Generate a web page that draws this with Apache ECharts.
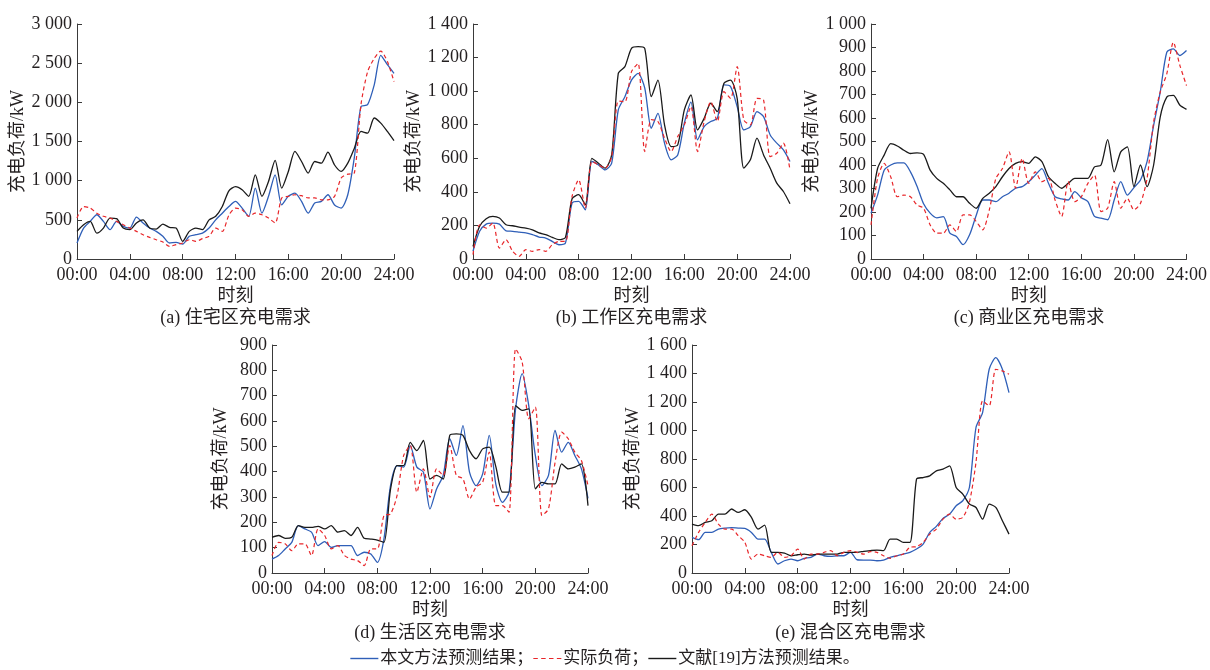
<!DOCTYPE html>
<html>
<head>
<meta charset="utf-8">
<script src="https://cdn.jsdelivr.net/npm/echarts@6/dist/echarts.min.js"></script>
<style>
html,body{margin:0;padding:0;background:#fff;}
#chart{width:1210px;height:670px;}
</style>
</head>
<body>
<div id="chart"></div>
<script>
// time axis (hours)
const hours = [0,0.5,1,1.5,2,2.5,3,3.5,4,4.5,5,5.5,6,6.5,7,7.5,8,8.5,9,9.5,10,10.5,11,11.5,12,12.5,13,13.5,14,14.5,15,15.5,16,16.5,17,17.5,18,18.5,19,19.5,20,20.5,21,21.5,22,22.5,23,23.5,24];
const xTicks = ['00:00','04:00','08:00','12:00','16:00','20:00','24:00'];

const seriesNames = ['本文方法预测结果；','实际负荷；','文献[19]方法预测结果。'];
const captions = ['(a) 住宅区充电需求','(b) 工作区充电需求','(c) 商业区充电需求','(d) 生活区充电需求','(e) 混合区充电需求'];
const yMax = [3000,1400,1000,900,1600];
const yStep = [500,200,100,100,200];

// (a) 住宅区
const aBlue  = [204,395,480,565,480,374,480,416,395,535,460,395,353,290,204,212,190,290,310,330,395,500,585,670,735,650,545,905,585,800,1075,690,800,840,735,585,715,735,820,690,650,820,1300,1945,1970,2220,2600,2480,2370];
const aRed   = [523,670,650,585,545,523,480,438,395,353,310,276,246,217,160,183,204,246,225,260,290,395,353,560,650,630,545,585,565,523,460,780,800,820,808,780,780,756,756,800,1033,1083,1100,1970,2390,2560,2655,2520,2265];
const aBlack = [353,438,480,330,395,523,515,395,374,460,500,395,382,446,404,395,225,353,395,374,500,545,670,870,925,885,800,1075,800,990,1260,905,1118,1373,1245,1097,1245,1224,1365,1200,1118,1224,1415,1628,1607,1800,1735,1628,1510];
// (b) 工作区
const bBlue  = [46,165,208,214,208,168,165,160,155,145,131,125,105,85,95,333,343,293,581,561,531,571,888,967,1066,1106,1020,779,868,690,591,620,809,934,710,789,819,838,1037,1027,908,769,789,878,848,739,690,650,581];
const bRed   = [26,204,184,214,65,115,46,16,56,46,56,46,85,105,105,373,472,303,581,561,541,610,941,937,1116,1165,640,830,819,720,640,729,799,908,640,819,937,819,997,957,1146,829,799,957,947,610,630,690,531];
const bBlack = [75,195,240,254,244,204,198,190,184,174,155,145,129,115,129,359,383,323,600,571,541,620,1106,1146,1255,1265,1255,967,1066,799,670,680,888,977,769,838,928,878,1047,1066,957,541,591,720,620,541,452,402,329];
// (c) 商业区
const cBlue  = [195,272,378,400,409,409,371,310,235,195,175,180,110,96,61,103,185,251,251,244,265,280,301,308,329,357,385,322,265,256,251,287,261,244,181,174,167,251,329,272,304,336,414,569,710,880,894,866,887];
const cRed   = [145,343,407,350,265,272,265,230,216,145,110,110,145,117,188,188,160,124,209,343,385,456,301,428,322,371,329,343,251,181,329,244,265,322,357,202,216,329,216,258,209,237,343,583,710,788,922,823,738];
const cBlack = [216,385,442,491,481,463,449,452,445,378,343,322,294,265,265,237,216,258,280,308,350,385,407,414,407,435,414,350,322,301,322,343,343,343,392,400,508,371,456,477,308,400,308,400,604,689,696,654,637];
// (d) 生活区
const dBlue  = [55,69,95,121,187,174,161,108,124,101,108,108,108,69,82,75,42,134,345,424,418,503,418,398,253,332,385,530,464,582,398,345,391,543,350,279,319,648,787,661,464,345,385,563,477,516,464,411,295];
const dRed   = [69,121,115,88,115,115,69,174,148,95,108,69,55,49,29,95,95,227,233,306,464,503,319,411,299,411,385,503,385,372,292,339,358,477,266,266,240,885,833,609,655,227,253,437,556,530,477,444,345];
const dBlack = [141,148,137,141,187,180,180,184,174,187,161,167,148,180,137,134,130,121,330,424,424,516,483,523,371,385,371,543,549,543,483,451,490,497,420,319,319,661,642,648,332,358,352,352,431,411,418,431,266];
// (e) 混合区
const eBlue  = [250,234,285,285,308,315,318,315,313,285,238,238,145,63,86,98,86,103,110,133,121,117,121,121,145,93,91,91,86,91,110,121,133,145,168,203,285,327,383,413,472,507,600,1021,1126,1430,1511,1430,1266];
const eRed   = [192,285,355,413,343,308,308,262,215,98,133,121,110,145,110,121,168,98,133,133,145,157,121,145,157,145,133,150,145,121,103,121,133,180,185,215,273,308,378,413,378,390,495,776,1208,1173,1430,1418,1395];
const eBlack = [343,332,355,367,413,413,449,425,444,390,308,336,145,145,140,121,128,133,126,133,133,133,133,145,145,145,152,157,161,157,238,238,215,215,659,670,682,717,729,752,600,554,484,460,378,484,460,367,273];

const panels = [
  [aBlue,aRed,aBlack],
  [bBlue,bRed,bBlack],
  [cBlue,cRed,cBlack],
  [dBlue,dRed,dBlack],
  [eBlue,eRed,eBlack]
];

// layout (pixels)
const grids = [
  {left:77, top:24, width:317, height:235},
  {left:473, top:24, width:317, height:235},
  {left:871, top:24, width:316, height:235},
  {left:272, top:345, width:316, height:228},
  {left:692, top:345, width:317, height:228}
];
const yNameGap = [48,48,42,42,50];
const capTop = [309,309,309,624,624];

const FONT = "'Liberation Serif','Noto Sans CJK SC',serif";
const TXT = '#231f20';
const AX = '#3a3a3a';
const lineStyles = [
  {color:'#2f5fb8', width:1.3, type:'solid'},
  {color:'#e8262a', width:1.2, type:[4,3]},
  {color:'#1a1a1a', width:1.3, type:'solid'}
];
const legendIcons = [
  'rect',
  'path://M0,0h4v1h-4z M7,0h4v1h-4z M14,0h4v1h-4z M21,0h4v1h-4z',
  'rect'
];

function fmtY(v){
  if (v >= 1000) { return Math.floor(v/1000) + ' ' + String(v%1000).padStart(3,'0'); }
  return String(v);
}
function fmtX(v){ return xTicks[Math.round(v/4)] || ''; }

const option = {
  animation:false,
  backgroundColor:'#fff',
  textStyle:{fontFamily:FONT, color:TXT},
  grid: grids.map(g => Object.assign({containLabel:false}, g)),
  title: captions.map((c,i) => ({
    text:c, left: grids[i].left + grids[i].width/2, top: capTop[i], textAlign:'center', padding:0,
    textStyle:{fontFamily:FONT, fontSize:18, fontWeight:'normal', color:TXT}
  })),
  legend:{
    data: seriesNames.map((n,k) => ({name:n, icon:legendIcons[k]})),
    top:650, left:'center', itemWidth:28, itemHeight:1.4, itemGap:0, padding:0,
    textStyle:{fontFamily:FONT, fontSize:17, color:TXT, padding:[0,0,0,-3]}
  },
  xAxis: grids.map((g,i) => ({
    gridIndex:i, type:'value', min:0, max:24, interval:4,
    axisLine:{show:true, lineStyle:{color:AX, width:1}},
    axisTick:{show:true, inside:true, length:5, lineStyle:{color:AX}},
    splitLine:{show:false},
    axisLabel:{formatter:fmtX, fontFamily:FONT, fontSize:18, color:TXT, margin:7},
    name:'时刻', nameLocation:'middle', nameGap:28,
    nameTextStyle:{fontFamily:FONT, fontSize:18, color:TXT}
  })),
  yAxis: grids.map((g,i) => ({
    gridIndex:i, type:'value', min:0, max:yMax[i], interval:yStep[i],
    axisLine:{show:true, lineStyle:{color:AX, width:1}},
    axisTick:{show:true, inside:true, length:5, lineStyle:{color:AX}},
    splitLine:{show:false},
    axisLabel:{formatter:fmtY, fontFamily:FONT, fontSize:18, color:TXT, margin:5},
    name:'充电负荷/kW', nameLocation:'middle', nameGap:yNameGap[i],
    nameTextStyle:{fontFamily:FONT, fontSize:18, color:TXT}
  })),
  series: []
};

panels.forEach((arrs, i) => {
  arrs.forEach((arr, k) => {
    option.series.push({
      name: seriesNames[k], type:'line', xAxisIndex:i, yAxisIndex:i,
      data: hours.map((h, j) => [h, arr[j]]),
      symbol:'none', showSymbol:false, smooth:0.25,
      lineStyle: lineStyles[k], itemStyle:{color:lineStyles[k].color},
      z: k === 1 ? 3 : 2
    });
  });
});

const chart = echarts.init(document.getElementById('chart'), null, {renderer:'canvas'});
chart.setOption(option);
</script>
</body>
</html>
